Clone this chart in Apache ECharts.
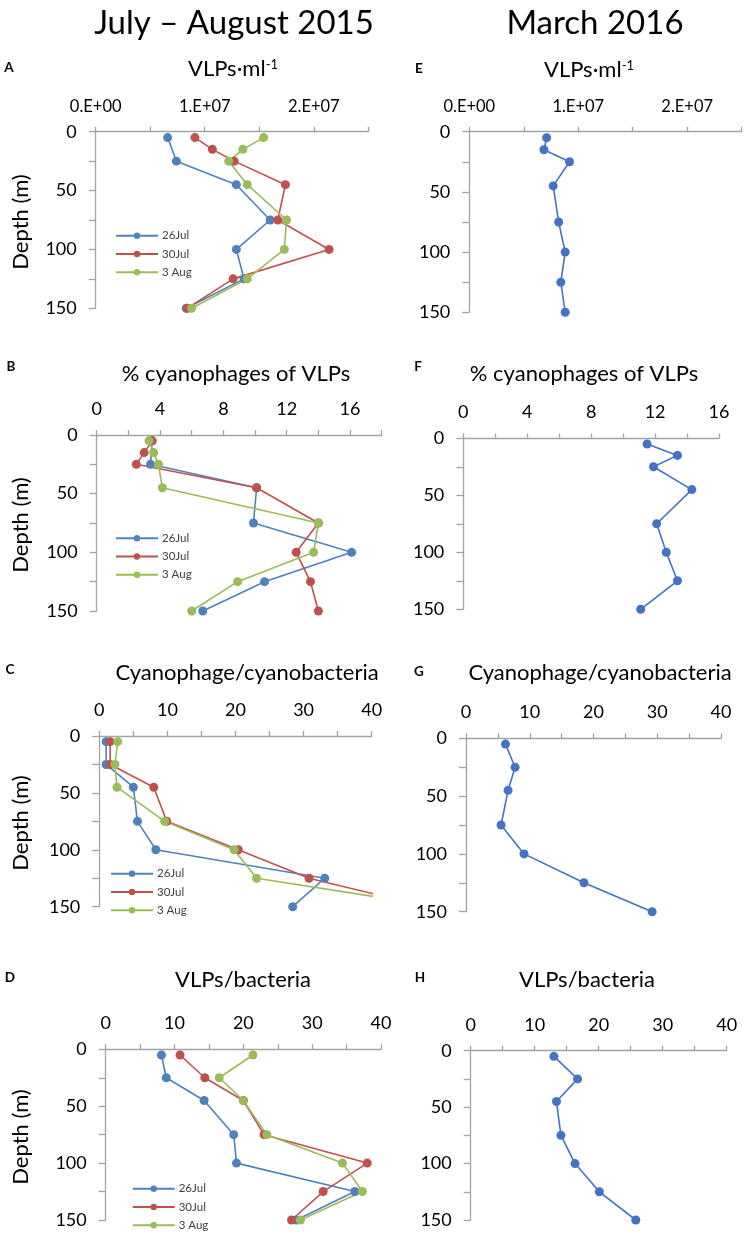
<!DOCTYPE html>
<html><head><meta charset="utf-8">
<script src="https://cdn.jsdelivr.net/npm/echarts@6/dist/echarts.min.js"></script>
<style>html,body{margin:0;padding:0;background:#fff}#c{width:750px;height:1235px}</style>
</head><body><div id="c"></div>
<script>
// ---------------- DATA ----------------
const seriesNames = ['26Jul', '30Jul', '3 Aug'];
const depth7 = [5, 25, 45, 75, 100, 125, 150];
const depth8 = [5, 15, 25, 45, 75, 100, 125, 150];

// A: VLPs per ml (Jul-Aug 2015)
const vlpJul26 = [6.6e6, 7.4e6, 12.9e6, 16.0e6, 12.9e6, 13.6e6, 8.3e6];      // depth7
const vlpJul30 = [9.1e6, 10.7e6, 12.7e6, 17.4e6, 16.7e6, 21.4e6, 12.6e6, 8.4e6]; // depth8
const vlpAug3  = [15.4e6, 13.5e6, 12.2e6, 13.9e6, 17.5e6, 17.3e6, 13.9e6, 8.8e6]; // depth8
// B: % cyanophages of VLPs
const pctJul26 = [3.5, 3.4, 10.1, 9.9, 16.1, 10.6, 6.7];          // depth7
const pctJul30 = [3.5, 3.0, 2.5, 10.1, 14.0, 12.6, 13.5, 14.0];   // depth8
const pctAug3  = [3.3, 3.6, 3.9, 4.15, 14.0, 13.7, 8.9, 6.0];     // depth8
// C: cyanophage/cyanobacteria
const cyaJul26 = [1.0, 1.0, 5.0, 5.6, 8.3, 33.1, 28.4];   // depth7
const cyaJul30 = [1.6, 1.6, 8.0, 9.9, 20.4, 30.8, 48];    // depth7
const cyaAug3  = [2.7, 2.3, 2.6, 9.6, 19.8, 23.1, 50];    // depth7
// D: VLPs/bacteria
const vbrJul26 = [8.1, 8.8, 14.3, 18.6, 19.0, 36.2, 27.7];  // depth7
const vbrJul30 = [10.8, 14.4, 20.0, 23.0, 38.0, 31.6, 27.0]; // depth7
const vbrAug3  = [21.4, 16.5, 20.0, 23.4, 34.4, 37.3, 28.3]; // depth7
// E-H: March 2016
const vlpMar = [7.1e6, 6.85e6, 9.2e6, 7.7e6, 8.2e6, 8.8e6, 8.4e6, 8.8e6]; // depth8
const pctMar = [11.5, 13.4, 11.9, 14.3, 12.1, 12.7, 13.4, 11.1];          // depth8
const cyaMar = [6.2, 7.7, 6.6, 5.5, 9.1, 18.5, 29.2];                     // depth7
const vbrMar = [13.0, 16.7, 13.4, 14.1, 16.3, 20.1, 25.8];                // depth7

// tick labels
const vlpTickLabels = ['0.E+00', '1.E+07', '2.E+07'];
const pctTickLabels = [0, 4, 8, 12, 16];
const ratioTickLabels = [0, 10, 20, 30, 40];
const depthTickLabels = [0, 50, 100, 150];

// ---------------- LAYOUT / STYLE ----------------
const FONT = 'Lato';
const AXIS_COLOR = '#A3A3A3';
const COLORS = ['#4F81BD', '#C0504D', '#9BBB59'];
const MAR_COLOR = '#4472C4';

const pair = (xs, ds) => xs.map((x, i) => [x, ds[i]]);

const panels = [
  {l: 95.7, t: 131.7, r: 368.3, b: 308.3, max: 2.5e7, interval: 5e6, kind: 'vlp'},
  {l: 96.7, t: 435, r: 381.7, b: 611, max: 18, interval: 2, kind: 'pct'},
  {l: 99.3, t: 736, r: 371.7, b: 906.7, max: 40, interval: 5, kind: 'ratio'},
  {l: 105.7, t: 1049.3, r: 381, b: 1220, max: 40, interval: 5, kind: 'ratio'},
  {l: 469.3, t: 131.7, r: 741.7, b: 312.3, max: 2.5e7, interval: 5e6, kind: 'vlp'},
  {l: 463.3, t: 438.3, r: 719, b: 609.3, max: 16, interval: 2, kind: 'pct'},
  {l: 466, t: 738.3, r: 721, b: 911.7, max: 40, interval: 5, kind: 'ratio'},
  {l: 470.7, t: 1050.7, r: 726.7, b: 1220, max: 40, interval: 5, kind: 'ratio'}
];

function xFormatter(kind) {
  if (kind === 'vlp') return v => { const k = Math.round(v / 1e7); return Math.abs(v - k * 1e7) < 1 && vlpTickLabels[k] !== undefined ? vlpTickLabels[k] : ''; };
  if (kind === 'pct') return v => pctTickLabels.includes(Math.round(v * 1000) / 1000) ? String(v) : '';
  return v => ratioTickLabels.includes(Math.round(v * 1000) / 1000) ? String(v) : '';
}

const grids = [], xAxes = [], yAxes = [];
panels.forEach((p, i) => {
  grids.push({left: p.l, top: p.t, width: p.r - p.l, height: p.b - p.t, containLabel: false, outerBoundsMode: 'none'});
  xAxes.push({
    type: 'value', gridIndex: i, position: 'top', min: 0, max: p.max, interval: p.interval,
    axisLine: {show: true, onZero: false, lineStyle: {color: AXIS_COLOR, width: 1.3}},
    axisTick: {show: true, length: 5, lineStyle: {color: AXIS_COLOR, width: 1.3}},
    splitLine: {show: false},
    axisLabel: {show: true, margin: 17, color: '#000', fontFamily: FONT, fontSize: p.kind === 'vlp' ? 16.5 : 18, formatter: xFormatter(p.kind)}
  });
  yAxes.push({
    type: 'value', gridIndex: i, inverse: true, min: 0, max: 150, interval: 25,
    axisLine: {show: true, onZero: false, lineStyle: {color: AXIS_COLOR, width: 1.3}},
    axisTick: {show: true, length: 7, lineStyle: {color: AXIS_COLOR, width: 1.3}},
    splitLine: {show: false},
    axisLabel: {show: true, margin: 19, color: '#000', fontFamily: FONT, fontSize: 18,
      formatter: v => depthTickLabels.includes(v) ? String(v) : ''}
  });
});

function lineSeries(name, idx, data, color) {
  return {
    name: name, type: 'line', xAxisIndex: idx, yAxisIndex: idx, data: data,
    symbol: 'circle', symbolSize: 9, clip: true, animation: false,
    lineStyle: {color: color, width: 1.6}, itemStyle: {color: color}
  };
}

const series = [
  lineSeries(seriesNames[0], 0, pair(vlpJul26, depth7), COLORS[0]),
  lineSeries(seriesNames[1], 0, pair(vlpJul30, depth8), COLORS[1]),
  lineSeries(seriesNames[2], 0, pair(vlpAug3, depth8), COLORS[2]),
  lineSeries(seriesNames[0], 1, pair(pctJul26, depth7), COLORS[0]),
  lineSeries(seriesNames[1], 1, pair(pctJul30, depth8), COLORS[1]),
  lineSeries(seriesNames[2], 1, pair(pctAug3, depth8), COLORS[2]),
  lineSeries(seriesNames[0], 2, pair(cyaJul26, depth7), COLORS[0]),
  lineSeries(seriesNames[1], 2, pair(cyaJul30, depth7), COLORS[1]),
  lineSeries(seriesNames[2], 2, pair(cyaAug3, depth7), COLORS[2]),
  lineSeries(seriesNames[0], 3, pair(vbrJul26, depth7), COLORS[0]),
  lineSeries(seriesNames[1], 3, pair(vbrJul30, depth7), COLORS[1]),
  lineSeries(seriesNames[2], 3, pair(vbrAug3, depth7), COLORS[2]),
  lineSeries('Mar VLP', 4, pair(vlpMar, depth8), MAR_COLOR),
  lineSeries('Mar pct', 5, pair(pctMar, depth8), MAR_COLOR),
  lineSeries('Mar cya', 6, pair(cyaMar, depth7), MAR_COLOR),
  lineSeries('Mar vbr', 7, pair(vbrMar, depth7), MAR_COLOR)
];

const legendPos = [[115, 226.5], [115, 529], [110, 864.5], [131.7, 1179.5]];
const legends = legendPos.map(([x, y]) => ({
  data: seriesNames, orient: 'vertical', left: x, top: y, padding: 0,
  itemWidth: 42, itemHeight: 8, itemGap: 0, selectedMode: false,
  textStyle: {fontFamily: FONT, fontSize: 11.5, color: '#404040', lineHeight: 18.3, padding: [0, 0, 0, -1]}
}));

const texts = [];
function txt(text, x, y, size, opts) {
  texts.push(Object.assign({type: 'text', x: x, y: y, silent: true,
    style: Object.assign({text: text, fontFamily: FONT, fontSize: size, fill: '#000', align: 'center', verticalAlign: 'middle'}, opts || {})}));
}
txt('July – August 2015', 234, 23, 33);
txt('March 2016', 595, 23, 33);
const sup = {rich: {sup: {fontSize: 13, fontFamily: FONT, verticalAlign: 'top', fill: '#000'}}};
txt('VLPs·ml{sup|-1}', 233, 69, 22, sup);
txt('% cyanophages of VLPs', 236, 374, 22);
txt('Cyanophage/cyanobacteria', 247, 673, 22);
txt('VLPs/bacteria', 243, 980, 22);
txt('VLPs·ml{sup|-1}', 589, 70, 22, sup);
txt('% cyanophages of VLPs', 584, 374, 22);
txt('Cyanophage/cyanobacteria', 600, 673, 22);
txt('VLPs/bacteria', 587, 980, 22);
const bold = {fontWeight: 'bold'};
[['A', 9, 68], ['B', 11, 367], ['C', 10, 670], ['D', 10, 978], ['E', 419, 69], ['F', 418, 367], ['G', 419, 672], ['H', 420, 978]]
  .forEach(([s, x, y]) => txt(s, x, y, 13.5, bold));
[222, 525, 823, 1137].forEach(y => {
  texts.push({type: 'text', x: 21, y: y, rotation: Math.PI / 2, silent: true,
    style: {text: 'Depth (m)', fontFamily: FONT, fontSize: 22, fill: '#000', align: 'center', verticalAlign: 'middle'}});
});

const chart = echarts.init(document.getElementById('c'), null, {renderer: 'canvas'});
chart.setOption({
  animation: false,
  backgroundColor: '#fff',
  grid: grids, xAxis: xAxes, yAxis: yAxes, series: series, legend: legends,
  graphic: {elements: texts}
});
</script>
</body></html>
